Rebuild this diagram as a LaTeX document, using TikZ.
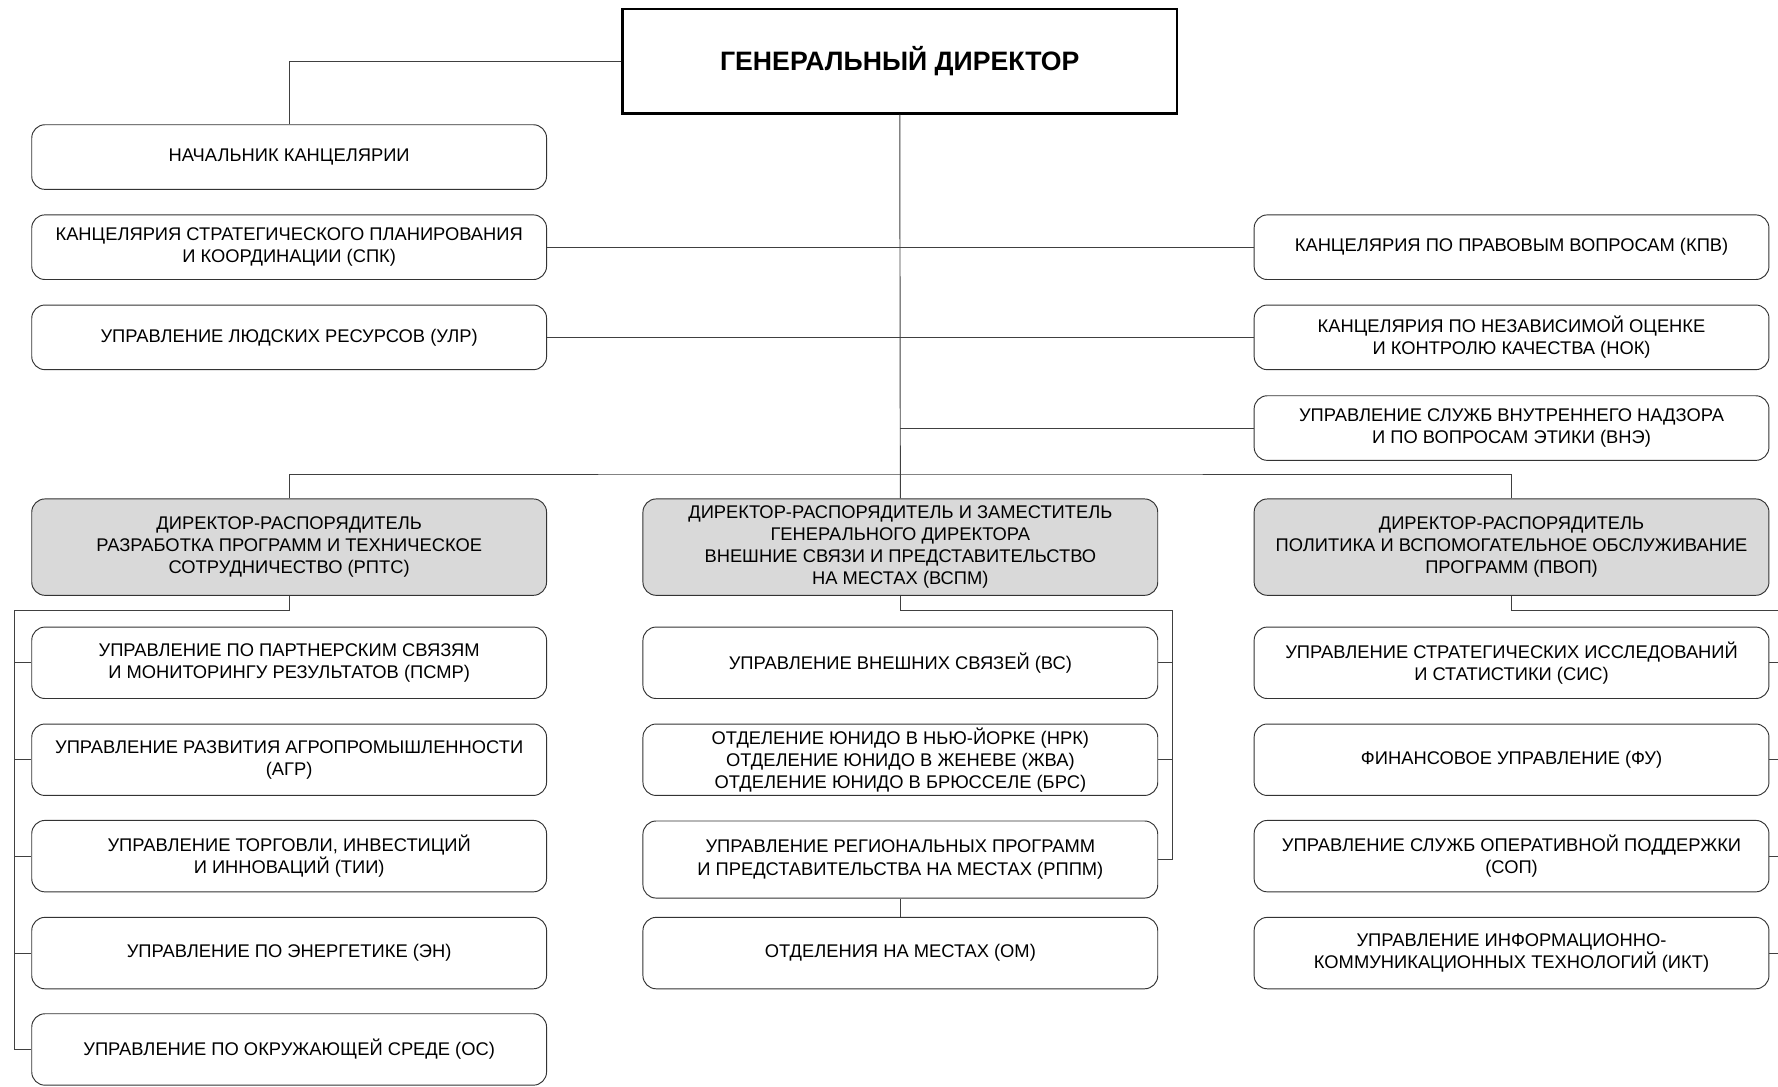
\documentclass[tikz,border=0pt]{standalone}
\usepackage{fontspec}
\setmainfont{Liberation Sans}
\usepackage{tikz}
\usetikzlibrary{calc}

\tikzset{
  unit/.style={draw=black!80, line width=0.5pt, rounded corners=7pt, align=center,
    minimum width=272.4pt, minimum height=37.8pt, inner sep=0pt,
    font=\fontsize{9.7}{11.7}\selectfont},
  topunit/.style={unit, minimum height=34.2pt},
  chief/.style={unit, fill=black!15, minimum height=51pt},
  link/.style={draw=black!75, line width=0.5pt}
}

\begin{document}
\begin{tikzpicture}[x=0.6pt, y=-0.6pt]
        \useasboundingbox (0,0) rectangle (1568,958);

        % Генеральный директор
        \node[draw, line width=1.3pt, minimum width=293.4pt, minimum height=55.2pt,
          font=\fontsize{14.1}{16}\selectfont\bfseries] (gd) at (793.5,54) {ГЕНЕРАЛЬНЫЙ ДИРЕКТОР};

        % Канцелярии и управления при ГД
        \node[topunit] (nk)  at (255,138.5) {НАЧАЛЬНИК КАНЦЕЛЯРИИ};
        \node[topunit] (spk) at (255,218) {КАНЦЕЛЯРИЯ СТРАТЕГИЧЕСКОГО ПЛАНИРОВАНИЯ\\И КООРДИНАЦИИ (СПК)};
        \node[topunit] (ulr) at (255,297.5) {УПРАВЛЕНИЕ ЛЮДСКИХ РЕСУРСОВ (УЛР)};
        \node[topunit] (kpv) at (1333,218) {КАНЦЕЛЯРИЯ ПО ПРАВОВЫМ ВОПРОСАМ (КПВ)};
        \node[topunit] (nok) at (1333,297.5) {КАНЦЕЛЯРИЯ ПО НЕЗАВИСИМОЙ ОЦЕНКЕ\\И КОНТРОЛЮ КАЧЕСТВА (НОК)};
        \node[topunit] (vne) at (1333,377.5) {УПРАВЛЕНИЕ СЛУЖБ ВНУТРЕННЕГО НАДЗОРА\\И ПО ВОПРОСАМ ЭТИКИ (ВНЭ)};

        % Директора-распорядители
        \node[chief] (rpts) at (255,482.5) {ДИРЕКТОР-РАСПОРЯДИТЕЛЬ\\РАЗРАБОТКА ПРОГРАММ И ТЕХНИЧЕСКОЕ\\СОТРУДНИЧЕСТВО (РПТС)};
        \node[chief] (vspm) at (794,482.5) {ДИРЕКТОР-РАСПОРЯДИТЕЛЬ И ЗАМЕСТИТЕЛЬ\\ГЕНЕРАЛЬНОГО ДИРЕКТОРА\\ВНЕШНИЕ СВЯЗИ И ПРЕДСТАВИТЕЛЬСТВО\\НА МЕСТАХ (ВСПМ)};
        \node[chief] (pvop) at (1333,482.5) {ДИРЕКТОР-РАСПОРЯДИТЕЛЬ\\ПОЛИТИКА И ВСПОМОГАТЕЛЬНОЕ ОБСЛУЖИВАНИЕ\\ПРОГРАММ (ПВОП)};

        % РПТС
        \node[unit] (psmr) at (255,584.5) {УПРАВЛЕНИЕ ПО ПАРТНЕРСКИМ СВЯЗЯМ\\И МОНИТОРИНГУ РЕЗУЛЬТАТОВ (ПСМР)};
        \node[unit] (agr)  at (255,670) {УПРАВЛЕНИЕ РАЗВИТИЯ АГРОПРОМЫШЛЕННОСТИ\\(АГР)};
        \node[unit] (tii)  at (255,755) {УПРАВЛЕНИЕ ТОРГОВЛИ, ИНВЕСТИЦИЙ\\И ИННОВАЦИЙ (ТИИ)};
        \node[unit] (en)   at (255,840.5) {УПРАВЛЕНИЕ ПО ЭНЕРГЕТИКЕ (ЭН)};
        \node[unit] (os)   at (255,925.5) {УПРАВЛЕНИЕ ПО ОКРУЖАЮЩЕЙ СРЕДЕ (ОС)};

        % ВСПМ
        \node[unit] (vs)   at (794,584.5) {УПРАВЛЕНИЕ ВНЕШНИХ СВЯЗЕЙ (ВС)};
        \node[unit] (otd)  at (794,670) {ОТДЕЛЕНИЕ ЮНИДО В НЬЮ-ЙОРКЕ (НРК)\\ОТДЕЛЕНИЕ ЮНИДО В ЖЕНЕВЕ (ЖВА)\\ОТДЕЛЕНИЕ ЮНИДО В БРЮССЕЛЕ (БРС)};
        \node[unit, minimum height=40.8pt] (rppm) at (794,758) {УПРАВЛЕНИЕ РЕГИОНАЛЬНЫХ ПРОГРАММ\\И ПРЕДСТАВИТЕЛЬСТВА НА МЕСТАХ (РППМ)};
        \node[unit] (om)   at (794,840.5) {ОТДЕЛЕНИЯ НА МЕСТАХ (ОМ)};

        % ПВОП
        \node[unit] (sis)  at (1333,584.5) {УПРАВЛЕНИЕ СТРАТЕГИЧЕСКИХ ИССЛЕДОВАНИЙ\\И СТАТИСТИКИ (СИС)};
        \node[unit] (fu)   at (1333,670) {ФИНАНСОВОЕ УПРАВЛЕНИЕ (ФУ)};
        \node[unit] (sop)  at (1333,755) {УПРАВЛЕНИЕ СЛУЖБ ОПЕРАТИВНОЙ ПОДДЕРЖКИ\\(СОП)};
        \node[unit] (ikt)  at (1333,840.5) {УПРАВЛЕНИЕ ИНФОРМАЦИОННО-\\КОММУНИКАЦИОННЫХ ТЕХНОЛОГИЙ (ИКТ)};

        \coordinate (bar) at (794,418);
        \coordinate (ltrunk) at (13,538);
        \coordinate (mtrunk) at (1034,538);
        \coordinate (rtrunk) at (1572,538);

        % Связи
        \draw[link] (gd.west) -| (nk.north);
        \draw[link] (gd.south) -- (vspm.north);
        \draw[link] (spk.east) -- (kpv.west);
        \draw[link] (ulr.east) -- (nok.west);
        \draw[link] (gd.south |- vne.west) -- (vne.west);
        \draw[link] (rpts.north) |- (bar) -| (pvop.north);

        \draw[link] (rpts.south) |- (ltrunk) |- (os.west);
        \foreach \n in {psmr,agr,tii,en}
          \draw[link] (ltrunk |- \n.west) -- (\n.west);

        \draw[link] (vspm.south) |- (mtrunk) |- (rppm.east);
        \foreach \n in {vs,otd}
          \draw[link] (mtrunk |- \n.east) -- (\n.east);
        \draw[link] (rppm.south) -- (om.north);

        \draw[link] (pvop.south) |- (rtrunk) -- (rtrunk |- ikt.east);
        \foreach \n in {sis,fu,sop,ikt}
          \draw[link] (rtrunk |- \n.east) -- (\n.east);
    \end{tikzpicture}
\end{document}
